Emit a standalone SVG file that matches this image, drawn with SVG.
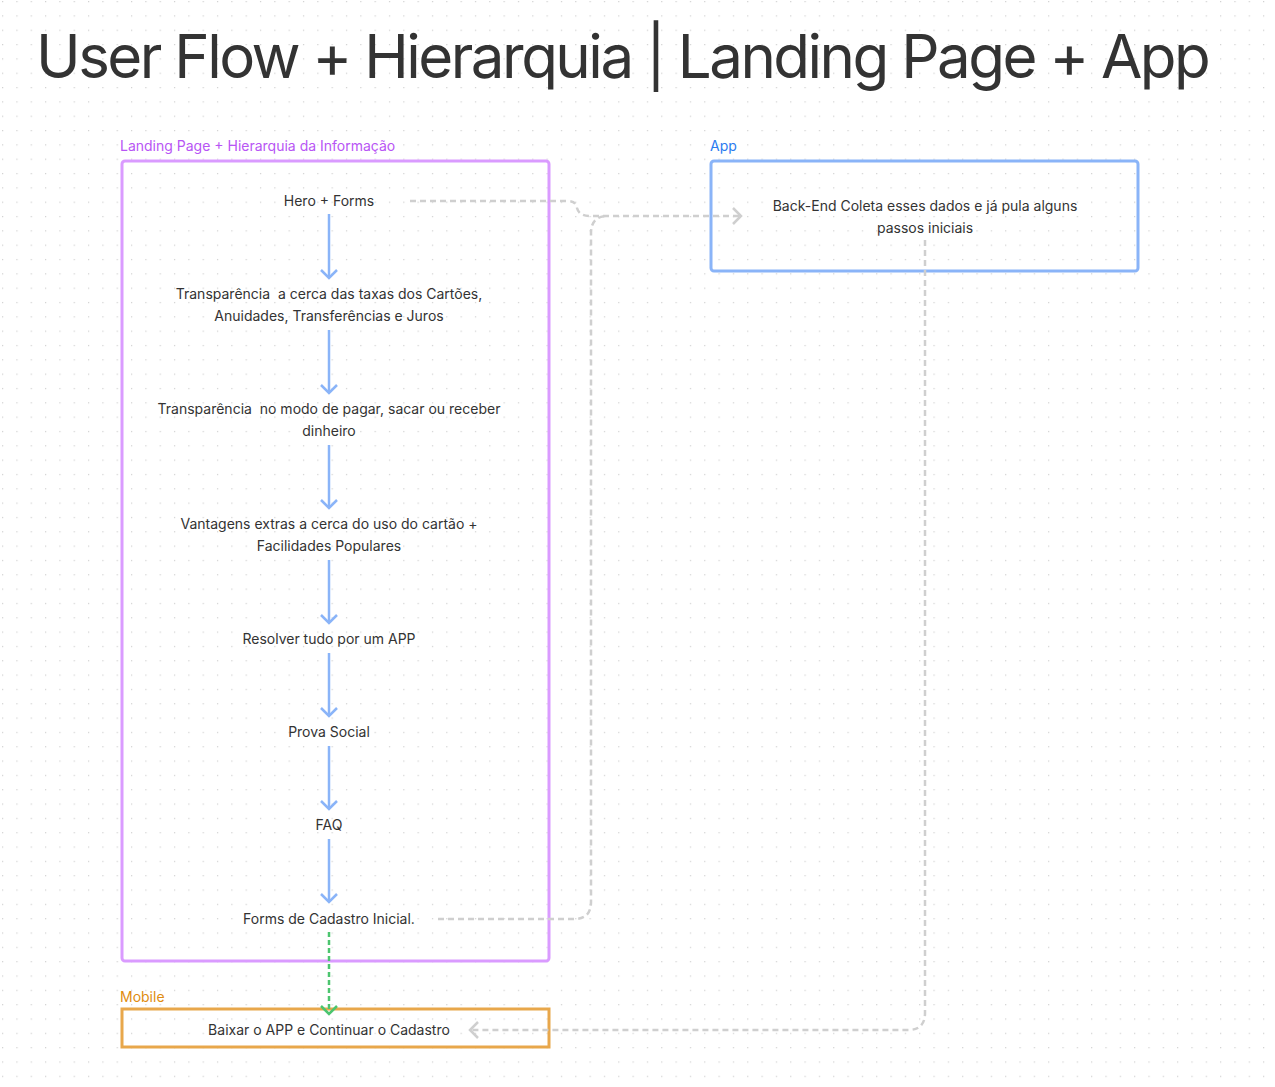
<svg xmlns="http://www.w3.org/2000/svg" width="1275" height="1087" viewBox="0 0 1275 1087">
<defs>
<pattern id="dots" x="2" y="1" width="14.33" height="14.33" patternUnits="userSpaceOnUse">
<rect x="0" y="0" width="1.2" height="1.2" fill="#d0d0d0"/>
</pattern>
<marker id="arrBlue" viewBox="0 0 20 20" refX="10" refY="10" markerWidth="20" markerHeight="20" markerUnits="userSpaceOnUse" orient="auto">
<path d="M2,2 L10,10 L2,18" fill="none" stroke="#8ab4f8" stroke-width="2.5"/>
</marker>
<marker id="arrGreen" viewBox="0 0 20 20" refX="10" refY="10" markerWidth="20" markerHeight="20" markerUnits="userSpaceOnUse" orient="auto">
<path d="M2,2 L10,10 L2,18" fill="none" stroke="#4cc56f" stroke-width="2.5"/>
</marker>
<marker id="arrGray" viewBox="0 0 20 20" refX="10" refY="10" markerWidth="20" markerHeight="20" markerUnits="userSpaceOnUse" orient="auto">
<path d="M2,2 L10,10 L2,18" fill="none" stroke="#cfcfcf" stroke-width="2.5"/>
</marker>
</defs>
<style>
text{font-family:Inter,"Noto Sans","Liberation Sans",sans-serif;white-space:pre;}
.title{font-size:60px;fill:#333333;letter-spacing:-2.5px;}
.t{font-size:14px;fill:#333333;text-anchor:middle;}
.lbl{font-size:14px;}
.flow{stroke:#8ab4f8;stroke-width:2.5;fill:none;marker-end:url(#arrBlue);}
.gray{stroke:#cfcfcf;stroke-width:2.5;fill:none;stroke-dasharray:6 4;}
</style>
<rect width="1275" height="1087" fill="#ffffff"/>
<rect width="1275" height="1087" fill="url(#dots)"/>

<text class="title" x="36" y="78">User Flow + Hierarquia | Landing Page + App</text>

<g id="landing">
<text class="lbl" x="120" y="151" fill="#b855f5">Landing Page + Hierarquia da Informação</text>
<rect x="122" y="161" width="427" height="800" rx="3" fill="none" stroke="#da9bff" stroke-width="3"/>
</g>
<g id="app">
<text class="lbl" x="710" y="151" fill="#2a7bf0">App</text>
<rect x="711" y="161" width="427" height="110" rx="3" fill="none" stroke="#8ab4f8" stroke-width="3"/>
<text class="t" x="925" y="211">Back-End Coleta esses dados e já pula alguns</text>
<text class="t" x="925" y="233">passos iniciais</text>
</g>
<g id="mobile">
<text class="lbl" x="120" y="1002" fill="#e08c10">Mobile</text>
<rect x="122" y="1009" width="427" height="38" fill="none" stroke="#e8a74b" stroke-width="3"/>
<text class="t" x="329" y="1035">Baixar o APP e Continuar o Cadastro</text>
</g>

<g id="n-hero"><text class="t" x="329" y="206">Hero + Forms</text></g>
<g id="n-taxas"><text class="t" x="329" y="299">Transparência  a cerca das taxas dos Cartões,</text><text class="t" x="329" y="321">Anuidades, Transferências e Juros</text></g>
<g id="n-modo"><text class="t" x="329" y="414">Transparência  no modo de pagar, sacar ou receber</text><text class="t" x="329" y="436">dinheiro</text></g>
<g id="n-vantagens"><text class="t" x="329" y="529">Vantagens extras a cerca do uso do cartão +</text><text class="t" x="329" y="551">Facilidades Populares</text></g>
<g id="n-resolver"><text class="t" x="329" y="644">Resolver tudo por um APP</text></g>
<g id="n-prova"><text class="t" x="329" y="737">Prova Social</text></g>
<g id="n-faq"><text class="t" x="329" y="830">FAQ</text></g>
<g id="n-forms"><text class="t" x="329" y="924">Forms de Cadastro Inicial.</text></g>

<g id="connectors">
<path class="flow" d="M329,214 V278"/>
<path class="flow" d="M329,330 V393"/>
<path class="flow" d="M329,445 V508"/>
<path class="flow" d="M329,560 V623"/>
<path class="flow" d="M329,653 V716"/>
<path class="flow" d="M329,746 V809"/>
<path class="flow" d="M329,839 V902"/>
<path d="M329,932 V1014" fill="none" stroke="#4cc56f" stroke-width="2.5" stroke-dasharray="5 3" marker-end="url(#arrGreen)"/>
<path class="gray" d="M410,201 H568 Q576,201 577,208 Q579,216 590,216 H741" marker-end="url(#arrGray)"/>
<path class="gray" d="M438,919 H574 Q591,919 591,902 V233 Q591,216 608,216"/>
<path class="gray" d="M925,240 V1013 Q925,1030 908,1030 H470" marker-end="url(#arrGray)"/>
</g>
</svg>
